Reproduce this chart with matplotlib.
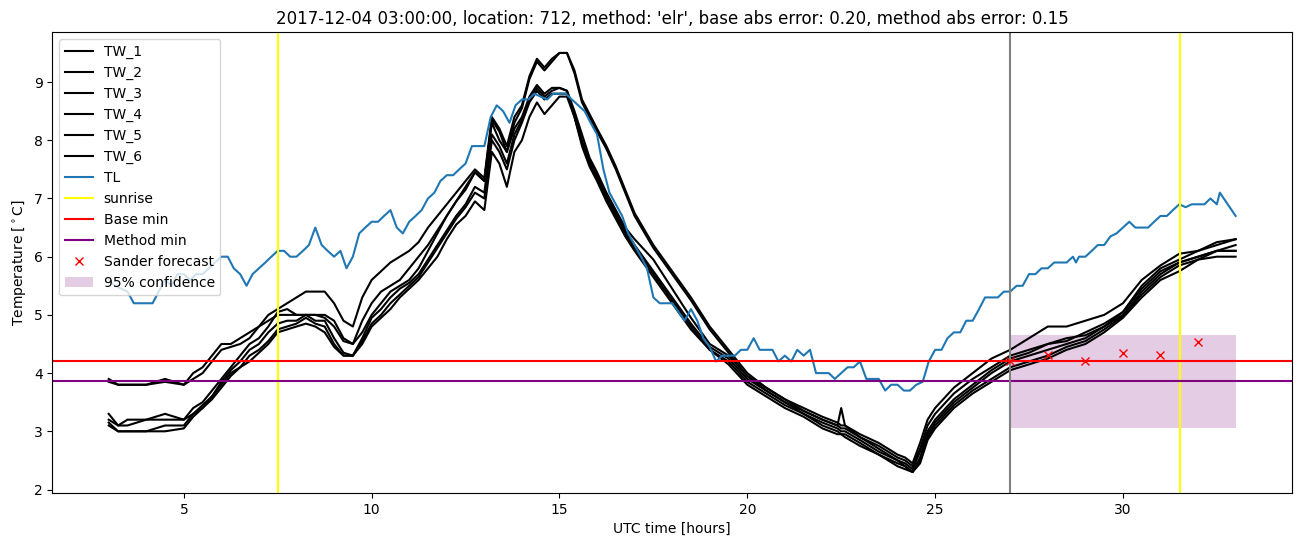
import numpy as np
import matplotlib
matplotlib.use("Agg")
import matplotlib.pyplot as plt

# --- data (hours since 2017-12-04 00:00 UTC) ---
t_tw = [3.0, 3.25, 3.5, 4.0, 4.5, 5.0, 5.25, 5.5, 5.75, 6.0, 6.25, 6.5, 6.75, 7.0, 7.25,
        7.5, 7.75, 8.0, 8.25, 8.5, 8.75, 9.0, 9.25, 9.5, 9.75, 10.0, 10.25, 10.5, 10.75,
        11.0, 11.25, 11.5, 11.75, 12.0, 12.25, 12.5, 12.75, 13.0, 13.2, 13.4, 13.6, 13.8,
        14.0, 14.2, 14.4, 14.6, 14.8, 15.0, 15.2, 15.4, 15.6, 15.8, 16.0, 16.25, 16.5,
        16.75, 17.0, 17.5, 18.0, 18.5, 19.0, 19.5, 20.0, 20.5, 21.0, 21.5, 22.0, 22.4,
        22.5, 22.6, 23.0, 23.5, 24.0, 24.2, 24.4, 24.6, 24.8, 25.0, 25.5, 26.0, 26.5,
        27.0, 27.5, 28.0, 28.5, 29.0, 29.5, 30.0, 30.5, 31.0, 31.5, 32.0, 32.5, 33.0]

tw_1 = [3.9, 3.8, 3.8, 3.8, 3.9, 3.8, 4.0, 4.1, 4.3, 4.5, 4.5, 4.6, 4.7, 4.8, 5.0,
        5.1, 5.2, 5.3, 5.4, 5.4, 5.4, 5.2, 4.9, 4.8, 5.3, 5.6, 5.75, 5.9, 6.0,
        6.1, 6.25, 6.5, 6.7, 6.9, 7.1, 7.3, 7.5, 7.35, 8.4, 8.2, 7.9, 8.4,
        8.6, 9.1, 9.4, 9.25, 9.4, 9.5, 9.5, 9.2, 8.7, 8.45, 8.2, 7.9, 7.55,
        7.15, 6.75, 6.2, 5.75, 5.3, 4.8, 4.4, 4.0, 3.75, 3.55, 3.4, 3.25, 3.15,
        3.1, 3.1, 2.95, 2.8, 2.6, 2.55, 2.45, 2.8, 3.2, 3.4, 3.75, 4.0, 4.25,
        4.4, 4.6, 4.8, 4.8, 4.9, 5.0, 5.2, 5.6, 5.85, 6.05, 6.1, 6.25, 6.3]
tw_2 = [3.85, 3.8, 3.8, 3.8, 3.85, 3.8, 3.9, 4.0, 4.2, 4.4, 4.45, 4.5, 4.6, 4.8, 4.9,
        5.0, 5.0, 5.0, 5.0, 5.0, 5.0, 4.9, 4.6, 4.5, 4.9, 5.2, 5.4, 5.5, 5.6,
        5.8, 6.0, 6.2, 6.45, 6.7, 6.95, 7.15, 7.45, 7.3, 8.35, 8.15, 7.8, 8.3,
        8.55, 9.05, 9.35, 9.2, 9.35, 9.5, 9.5, 9.15, 8.65, 8.4, 8.15, 7.85, 7.5,
        7.1, 6.7, 6.15, 5.7, 5.25, 4.75, 4.35, 3.95, 3.7, 3.5, 3.35, 3.2, 3.1,
        3.05, 3.05, 2.9, 2.75, 2.55, 2.5, 2.4, 2.7, 3.1, 3.3, 3.65, 3.9, 4.1,
        4.3, 4.4, 4.5, 4.6, 4.65, 4.8, 5.05, 5.5, 5.8, 5.95, 6.1, 6.2, 6.3]
tw_3 = [3.3, 3.1, 3.2, 3.2, 3.3, 3.2, 3.4, 3.5, 3.7, 3.9, 4.1, 4.3, 4.5, 4.6, 4.8,
        5.05, 5.1, 5.0, 5.0, 5.0, 4.95, 4.8, 4.55, 4.5, 4.7, 5.0, 5.2, 5.4, 5.5,
        5.6, 5.8, 6.1, 6.4, 6.7, 6.95, 7.2, 7.45, 7.3, 8.3, 8.0, 7.8, 8.2,
        8.4, 8.75, 8.95, 8.8, 8.9, 8.9, 8.85, 8.5, 8.1, 7.7, 7.45, 7.1, 6.8,
        6.5, 6.3, 5.95, 5.45, 4.95, 4.5, 4.3, 3.95, 3.75, 3.55, 3.35, 3.2, 3.1,
        3.4, 3.1, 2.9, 2.7, 2.5, 2.45, 2.35, 2.65, 3.0, 3.2, 3.55, 3.8, 4.05,
        4.25, 4.35, 4.5, 4.55, 4.7, 4.85, 5.05, 5.45, 5.75, 5.9, 6.0, 6.1, 6.2]
tw_4 = [3.2, 3.1, 3.1, 3.2, 3.2, 3.2, 3.3, 3.45, 3.6, 3.85, 4.05, 4.2, 4.4, 4.5, 4.7,
        4.85, 4.9, 4.9, 5.0, 4.9, 4.9, 4.6, 4.35, 4.3, 4.6, 4.95, 5.1, 5.3, 5.45,
        5.55, 5.7, 5.95, 6.2, 6.45, 6.7, 6.9, 7.2, 7.1, 8.1, 7.9, 7.6, 8.1,
        8.35, 8.7, 8.9, 8.75, 8.85, 8.9, 8.85, 8.45, 8.0, 7.65, 7.4, 7.05, 6.75,
        6.45, 6.2, 5.75, 5.3, 4.85, 4.45, 4.25, 3.9, 3.7, 3.5, 3.3, 3.15, 3.05,
        3.0, 3.0, 2.85, 2.65, 2.5, 2.4, 2.3, 2.55, 2.95, 3.15, 3.5, 3.75, 4.0,
        4.2, 4.3, 4.4, 4.5, 4.6, 4.8, 5.0, 5.4, 5.7, 5.9, 6.0, 6.1, 6.1]
tw_5 = [3.1, 3.0, 3.0, 3.0, 3.1, 3.1, 3.3, 3.4, 3.6, 3.8, 4.0, 4.1, 4.3, 4.4, 4.55,
        4.75, 4.8, 4.85, 4.95, 4.85, 4.8, 4.5, 4.3, 4.3, 4.55, 4.85, 5.0, 5.2, 5.35,
        5.5, 5.65, 5.9, 6.15, 6.4, 6.65, 6.85, 7.1, 7.0, 8.0, 7.8, 7.5, 8.0,
        8.3, 8.65, 8.85, 8.7, 8.8, 8.8, 8.8, 8.4, 7.95, 7.6, 7.35, 7.0, 6.7,
        6.4, 6.15, 5.7, 5.25, 4.8, 4.4, 4.2, 3.85, 3.65, 3.45, 3.3, 3.1, 3.0,
        2.95, 2.95, 2.8, 2.6, 2.45, 2.4, 2.3, 2.5, 2.9, 3.1, 3.45, 3.7, 3.9,
        4.1, 4.2, 4.3, 4.45, 4.55, 4.75, 4.98, 5.35, 5.65, 5.85, 5.95, 6.1, 6.1]
tw_6 = [3.15, 3.0, 3.0, 3.0, 3.0, 3.05, 3.25, 3.4, 3.55, 3.75, 3.95, 4.1, 4.2, 4.35, 4.5,
        4.7, 4.75, 4.8, 4.85, 4.8, 4.7, 4.45, 4.3, 4.3, 4.5, 4.8, 4.95, 5.1, 5.3,
        5.45, 5.6, 5.8, 6.0, 6.3, 6.55, 6.7, 6.95, 6.8, 7.8, 7.6, 7.2, 7.8,
        8.0, 8.4, 8.65, 8.45, 8.6, 8.75, 8.75, 8.4, 7.9, 7.55, 7.3, 6.95, 6.65,
        6.35, 6.1, 5.65, 5.2, 4.75, 4.4, 4.15, 3.8, 3.6, 3.4, 3.25, 3.05, 2.95,
        2.95, 2.9, 2.75, 2.6, 2.4, 2.35, 2.3, 2.45, 2.85, 3.05, 3.4, 3.65, 3.85,
        4.05, 4.15, 4.25, 4.4, 4.5, 4.7, 4.95, 5.3, 5.6, 5.75, 5.95, 6.0, 6.0]

t_tl = [3.0, 3.17, 3.33, 3.5, 3.67, 4.17, 4.33, 4.5, 4.67, 4.83, 5.0, 5.17, 5.33, 5.5,
        5.67, 5.83, 6.0, 6.17, 6.33, 6.5, 6.67, 6.83, 7.0, 7.17, 7.33, 7.5, 7.67, 7.83,
        8.0, 8.17, 8.33, 8.5, 8.67, 8.83, 9.0, 9.17, 9.33, 9.5, 9.67, 9.83, 10.0, 10.17,
        10.33, 10.5, 10.67, 10.83, 11.0, 11.17, 11.33, 11.5, 11.67, 11.83, 12.0, 12.17,
        12.33, 12.5, 12.67, 12.83, 13.0, 13.17, 13.33, 13.5, 13.67, 13.83, 14.0, 14.17,
        14.33, 14.5, 14.67, 14.83, 15.0, 15.17, 15.33, 15.5, 15.67, 15.83, 16.0, 16.17,
        16.33, 16.5, 16.67, 16.83, 17.0, 17.17, 17.33, 17.5, 17.67, 18.0, 18.17, 18.33,
        18.5, 18.67, 18.83, 19.0, 19.17, 19.33, 19.67, 19.83, 20.0, 20.17, 20.33, 20.67,
        20.83, 21.0, 21.17, 21.33, 21.5, 21.67, 21.83, 22.17, 22.33, 22.5, 22.67, 22.83,
        23.0, 23.17, 23.5, 23.67, 23.83, 24.0, 24.17, 24.33, 24.5, 24.67, 24.83, 25.0,
        25.17, 25.33, 25.5, 25.67, 25.83, 26.0, 26.17, 26.33, 26.67, 26.83, 27.0, 27.17,
        27.33, 27.5, 27.67, 27.83, 28.0, 28.17, 28.5, 28.67, 28.75, 28.83, 29.0, 29.17,
        29.33, 29.5, 29.67, 29.83, 30.0, 30.17, 30.33, 30.67, 30.83, 31.0, 31.17, 31.33,
        31.5, 31.67, 31.83, 32.17, 32.33, 32.5, 32.58, 33.0]
tl = [5.6, 5.5, 5.45, 5.4, 5.2, 5.2, 5.4, 5.6, 5.5, 5.7, 5.7, 5.6, 5.7, 5.7,
      5.8, 5.9, 6.0, 6.0, 5.8, 5.7, 5.5, 5.7, 5.8, 5.9, 6.0, 6.1, 6.1, 6.0,
      6.0, 6.1, 6.2, 6.5, 6.2, 6.1, 6.0, 6.1, 5.8, 6.0, 6.4, 6.5, 6.6, 6.6,
      6.7, 6.8, 6.5, 6.4, 6.6, 6.7, 6.8, 7.0, 7.1, 7.3, 7.4, 7.4,
      7.5, 7.6, 7.9, 7.9, 7.9, 8.4, 8.6, 8.5, 8.3, 8.6, 8.7, 8.7,
      8.8, 8.75, 8.7, 8.8, 8.8, 8.8, 8.7, 8.6, 8.5, 8.3, 8.1, 7.5,
      7.1, 6.9, 6.7, 6.4, 6.2, 6.0, 5.8, 5.3, 5.2, 5.2, 5.05, 4.9,
      5.1, 4.9, 4.6, 4.45, 4.2, 4.3, 4.3, 4.4, 4.4, 4.6, 4.4, 4.4,
      4.2, 4.3, 4.2, 4.4, 4.3, 4.4, 4.0, 4.0, 3.9, 4.0, 4.1, 4.1,
      4.2, 3.9, 3.9, 3.7, 3.8, 3.8, 3.7, 3.7, 3.8, 3.85, 4.2, 4.4,
      4.4, 4.6, 4.7, 4.7, 4.9, 4.9, 5.1, 5.3, 5.3, 5.4, 5.4, 5.5,
      5.5, 5.7, 5.7, 5.8, 5.8, 5.9, 5.9, 6.0, 5.9, 6.0, 6.0, 6.1,
      6.2, 6.2, 6.35, 6.4, 6.5, 6.6, 6.5, 6.5, 6.6, 6.7, 6.7, 6.8,
      6.9, 6.85, 6.9, 6.9, 7.0, 6.9, 7.1, 6.7]

sunrise = [7.52, 31.52]
now_hour = 27.0
base_min = 4.2
method_min = 3.86
sander_hours = [27, 28, 29, 30, 31, 32]
sander_temp = [4.2, 4.31, 4.2, 4.34, 4.31, 4.53]
conf_hours = [27, 33]
conf_low = 3.05
conf_high = 4.65

title = ("2017-12-04 03:00:00, location: 712, method: 'elr', "
         "base abs error: 0.20, method abs error: 0.15")

# --- plot ---
fig = plt.figure(figsize=(13.02, 5.47), dpi=100)
ax = fig.add_axes([0.0402, 0.0987, 0.9521, 0.8428])

for i, tw in enumerate([tw_1, tw_2, tw_3, tw_4, tw_5, tw_6]):
    ax.plot(t_tw, tw, color='black', label=f'TW_{i + 1}')
ax.plot(t_tl, tl, color='tab:blue', label='TL')

ax.axvline(sunrise[0], color='yellow', label='sunrise')
ax.axvline(sunrise[1], color='yellow')
ax.axhline(base_min, color='red', label='Base min')
ax.axhline(method_min, color='purple', label='Method min')
ax.axvline(now_hour, color='gray')
ax.plot(sander_hours, sander_temp, 'rx', label='Sander forecast')
ax.fill_between(conf_hours, conf_low, conf_high, color='purple', alpha=0.2,
                linewidth=0, label='95% confidence')

ax.set_xlabel('UTC time [hours]')
ax.set_ylabel(r'Temperature [$^\circ$C]')
ax.set_title(title)
ax.legend(loc='upper left')

fig.savefig('out.png', dpi=100)
